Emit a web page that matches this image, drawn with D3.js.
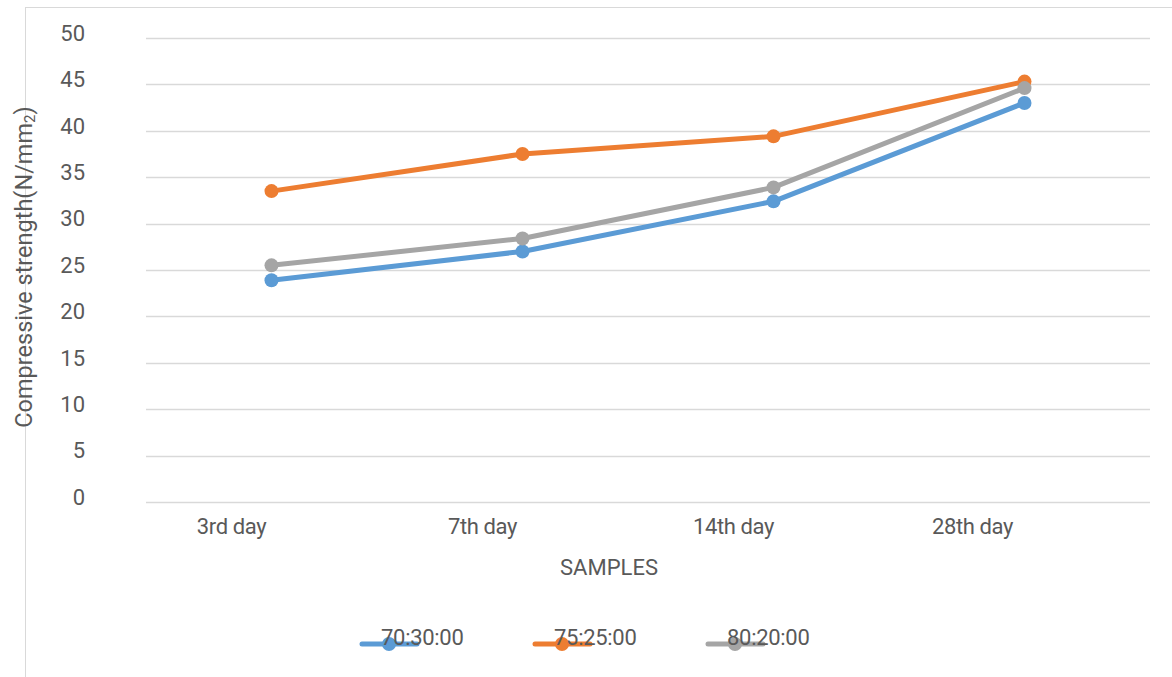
<!DOCTYPE html>
<html><head><meta charset="utf-8">
<script src="https://cdn.jsdelivr.net/npm/d3@7"></script>
<style>body{margin:0;background:#fff}text{font-family:Roboto,"Liberation Sans",sans-serif;fill:#595959}</style>
</head><body><svg id="c" width="1172" height="677"></svg>
<script>
const categories = ["3rd day","7th day","14th day","28th day"];
const seriesNames = ["70:30:00","75:25:00","80:20:00"];
const s7030 = [23.9, 27.0, 32.4, 43.0];
const s7525 = [33.5, 37.5, 39.4, 45.3];
const s8020 = [25.5, 28.4, 33.9, 44.6];
const yTicks = [0,5,10,15,20,25,30,35,40,45,50];
const colors = ["#5B9BD5","#ED7D31","#A5A5A5"];
const series = [s7030, s7525, s8020];

const svg = d3.select("#c");
const W=1172,H=677;
svg.append("line").attr("x1",25).attr("x2",W).attr("y1",7.5).attr("y2",7.5).attr("stroke","#d9d9d9");
svg.append("line").attr("x1",25.5).attr("x2",25.5).attr("y1",7).attr("y2",H).attr("stroke","#d9d9d9");

const x = d3.scaleBand().domain(categories).range([146,1150]);
const y = d3.scaleLinear().domain([0,50]).range([502,38]);

svg.append("g").selectAll("line").data(yTicks).join("line")
  .attr("x1",146).attr("x2",1150).attr("y1",d=>Math.round(y(d))+0.5).attr("y2",d=>Math.round(y(d))+0.5)
  .attr("stroke","#d9d9d9").attr("stroke-width",1.5);

svg.append("g").selectAll("text").data(yTicks).join("text")
  .attr("x",85).attr("y",d=>y(d)-5).attr("dy","0.35em").attr("text-anchor","end")
  .attr("font-size",22).text(d=>d);

svg.append("g").selectAll("text").data(categories).join("text")
  .attr("x",(d,i)=>x(d)+x.bandwidth()/2-40-(i===categories.length-1?12:0)).attr("y",534).attr("text-anchor","middle")
  .attr("font-size",22).attr("letter-spacing","-0.4").text(d=>d);

svg.append("text").attr("x",609).attr("y",575).attr("text-anchor","middle").attr("font-size",22).text("SAMPLES");
const yt = svg.append("text").attr("transform","translate(32,267) rotate(-90)").attr("text-anchor","middle").attr("font-size",23.5);
yt.append("tspan").text("Compressive strength(N/mm");
yt.append("tspan").attr("font-size",15).attr("dy",3).text("2");
yt.append("tspan").attr("dy",-3).text(")");

const line = d3.line().x((d,i)=>x(categories[i])+x.bandwidth()/2).y(d=>y(d));
series.forEach((s,k)=>{
  svg.append("path").datum(s).attr("d",line).attr("fill","none").attr("stroke",colors[k])
    .attr("stroke-width",5).attr("stroke-linejoin","round").attr("stroke-linecap","round");
  svg.append("g").selectAll("circle").data(s).join("circle")
    .attr("cx",(d,i)=>x(categories[i])+x.bandwidth()/2).attr("cy",d=>y(d)).attr("r",7).attr("fill",colors[k]);
});

const lx = d3.scalePoint().domain(seriesNames).range([389,735]);
const lg = svg.append("g").selectAll("g").data(seriesNames).join("g");
lg.append("line").attr("x1",d=>lx(d)-27).attr("x2",d=>lx(d)+28).attr("y1",644).attr("y2",644)
  .attr("stroke",(d,i)=>colors[i]).attr("stroke-width",5).attr("stroke-linecap","round");
lg.append("circle").attr("cx",d=>lx(d)).attr("cy",644).attr("r",7).attr("fill",(d,i)=>colors[i]);
lg.append("text").attr("x",d=>lx(d)-8).attr("y",645).attr("font-size",22).attr("letter-spacing","-0.3").text(d=>d);
</script></body></html>
